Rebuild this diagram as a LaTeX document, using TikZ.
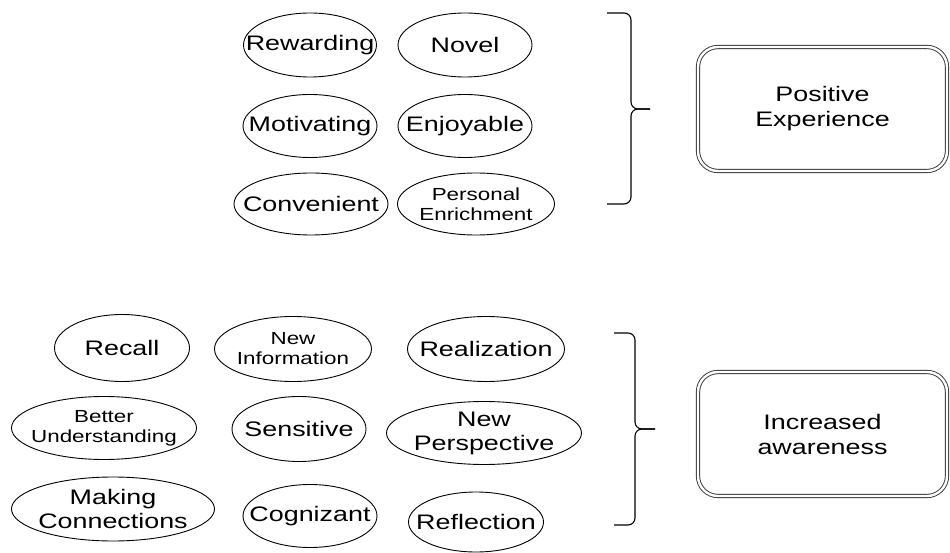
\documentclass[tikz,border=0pt]{standalone}
\usepackage{fontspec}
\setmainfont{Liberation Sans}[FakeStretch=1.28]
\usetikzlibrary{shapes.geometric}
\tikzset{
  oval/.style={draw, ellipse, inner xsep=-20pt, inner ysep=-5pt, line width=0.9pt,
    align=center, font=\fontsize{21}{24}\selectfont},
  smalloval/.style={oval, font=\fontsize{17.5}{20}\selectfont},
  outcome/.style={draw=black!80, double, double distance=2.4pt, line width=0.9pt,
    rounded corners=20pt, minimum width=249pt, minimum height=124pt, align=center,
    font=\fontsize{21}{25}\selectfont},
  bracket/.style={line width=1.1pt, rounded corners=7pt}
}
\begin{document}
\begin{tikzpicture}[x=1pt,y=-1pt]
      \useasboundingbox (0,0) rectangle (950,553);
      % positive experience
      \path
        (310,45) node[oval, minimum width=133pt, minimum height=64pt] (rewarding){Rewarding}
        (465,45) node[oval, minimum width=134pt, minimum height=64pt] (novel){Novel}
        (310,126) node[oval, minimum width=134pt, minimum height=63pt] (motivating){Motivating}
        (465,126) node[oval, minimum width=134pt, minimum height=63pt] (enjoyable){Enjoyable}
        (311,204) node[oval, minimum width=154pt, minimum height=62pt] (convenient){Convenient}
        (476,204) node[smalloval, minimum width=157pt, minimum height=62pt] (enrichment){Personal\\Enrichment};
      \draw[bracket] (607,13) -- (631,13) -- (631,109) -- (650,109);
      \draw[bracket] (607,204) -- (631,204) -- (631,109) -- (650,109);
      \node[outcome] (positive) at (822.5,109) {Positive\\Experience};
      % increased awareness
      \path
        (122,348) node[oval, minimum width=135pt, minimum height=67pt] (recall){Recall}
        (293,349) node[smalloval, minimum width=157pt, minimum height=65pt] (newinfo){New\\Information}
        (486,349) node[oval, minimum width=157pt, minimum height=65pt] (realization){Realization}
        (104,428) node[smalloval, minimum width=185pt, minimum height=63pt] (understanding){Better\\Understanding}
        (299,429) node[oval, minimum width=134pt, minimum height=65pt] (sensitive){Sensitive}
        (484,433) node[oval, minimum width=195pt, minimum height=63pt] (perspective){New\\Perspective}
        (113,509) node[oval, minimum width=203pt, minimum height=64pt] (connections){Making\\Connections}
        (310,516) node[oval, minimum width=134pt, minimum height=63pt] (cognizant){Cognizant}
        (476,522) node[oval, minimum width=135pt, minimum height=60pt] (reflection){Reflection};
      \draw[bracket] (614,333) -- (635,333) -- (635,429) -- (655,429);
      \draw[bracket] (614,525) -- (635,525) -- (635,429) -- (655,429);
      \node[outcome] (awareness) at (822.5,434) {Increased\\awareness};
    \end{tikzpicture}
\end{document}
